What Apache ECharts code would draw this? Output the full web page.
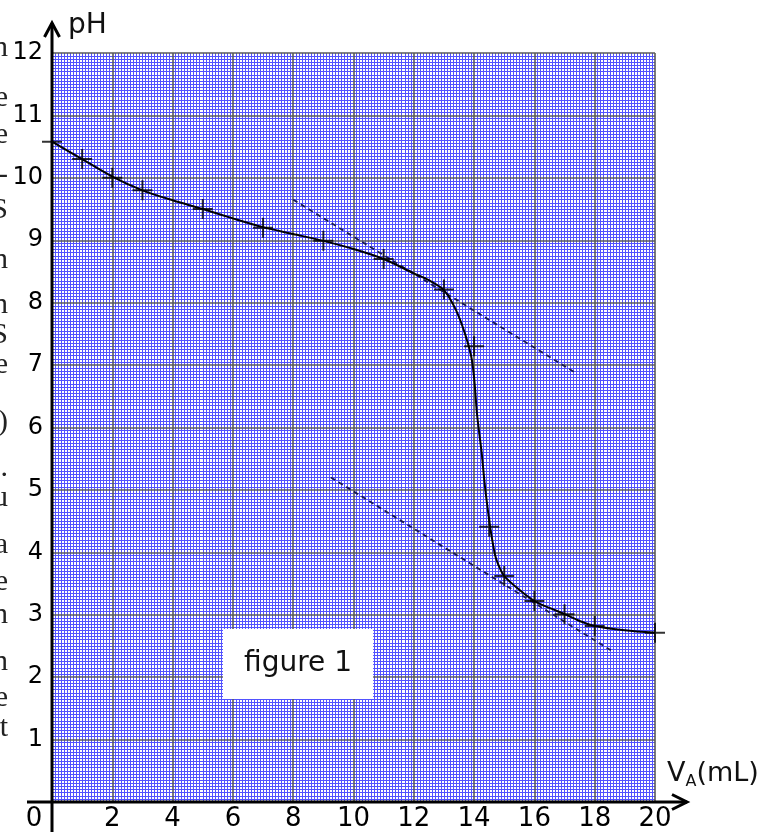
<!DOCTYPE html>
<html><head><meta charset="utf-8">
<script src="https://cdn.jsdelivr.net/npm/echarts@6/dist/echarts.min.js"></script>
<style>html,body{margin:0;padding:0;background:#fff;overflow:hidden}#c{width:762px;height:832px}</style>
</head><body><div id="c"></div>
<script>
// measured crosses (V_A in mL, pH)
const markerPoints = [[0,10.58],[1,10.30],[2,10.00],[3,9.80],[5,9.50],[7,9.20],[9,8.99],[11,8.70],[13,8.21],[14,7.30],[14.5,4.41],[15,3.62],[16,3.22],[17,3.01],[18,2.82],[20,2.71]];
// traced smooth titration curve
const curvePoints = [[0,10.58],[1,10.30],[2,10.02],[3,9.80],[4,9.64],[5,9.50],[6,9.35],[7,9.21],[8,9.10],[9,8.99],[10,8.86],[11,8.70],[12,8.47],[12.5,8.36],[13,8.20],[13.4,7.88],[13.7,7.50],[13.9,7.15],[14.0,6.80],[14.1,6.20],[14.25,5.60],[14.35,5.10],[14.45,4.70],[14.55,4.35],[14.7,3.95],[14.85,3.75],[15.0,3.62],[15.5,3.40],[16.0,3.22],[16.5,3.11],[17.0,3.01],[17.5,2.90],[18.0,2.82],[19.0,2.75],[20.0,2.71]];
// tangents (dashed)
const tangentUpper = [[8.0,9.65],[17.35,6.88]];
const tangentLower = [[9.25,5.20],[18.57,2.42]];
// "figure 1" caption box corners
const figureBox = [[5.67,2.77],[10.65,1.65]];
const figureLabel = 'figure 1';
const xName = ['V','A','(mL)'];
const yName = 'pH';
// stray letters of the cropped neighbouring text at the left edge: [char, baseline y]
const strayText = [['n',63],['e',113],['e',150],['-',190],['S',225],['n',275],['n',320],['S',350],['e',380],[')',437],['.',483],['u',513],['a',560],['e',597],['n',630],['n',677],['e',713],['t',743]];

const FONT = 'DejaVu Sans';
const chart = echarts.init(document.getElementById('c'), null, {renderer:'canvas'});
const minorStyle = {color:'#5252ff', width:1};
const majorStyle = {color:'#5a5a5a', width:1.6};
const option = {
  animation:false,
  backgroundColor:'#fff',
  grid:{left:52, top:53, width:603, height:750, containLabel:false},
  xAxis:[{
    type:'value', min:0, max:20, interval:2, z:0,
    axisLine:{show:false}, axisTick:{show:false},
    axisLabel:{color:'#000', fontFamily:FONT, fontSize:26, margin:4,
      formatter:v => v===0 ? '{z|0}' : String(v),
      rich:{z:{color:'#000', fontFamily:FONT, fontSize:26, padding:[0,36,0,0]}}},
    splitLine:{show:false},
    minorTick:{show:false, splitNumber:20},
    minorSplitLine:{show:true, lineStyle:minorStyle}
  },{
    type:'value', min:0, max:20, interval:2, z:1,
    axisLine:{show:false}, axisTick:{show:false}, axisLabel:{show:false},
    splitLine:{show:true, lineStyle:majorStyle}
  }],
  yAxis:[{
    type:'value', min:0, max:12, interval:1, z:0,
    axisLine:{show:false}, axisTick:{show:false},
    axisLabel:{color:'#000', fontFamily:FONT, fontSize:24, margin:9,
      formatter:v => v===0 ? '' : String(v)},
    splitLine:{show:false},
    minorTick:{show:false, splitNumber:20},
    minorSplitLine:{show:true, lineStyle:minorStyle}
  },{
    type:'value', min:0, max:12, interval:1, z:1,
    axisLine:{show:false}, axisTick:{show:false}, axisLabel:{show:false},
    splitLine:{show:true, lineStyle:majorStyle}
  }],
  series:[
    {type:'line', data:tangentUpper, symbol:'none', silent:true, z:3,
     lineStyle:{color:'#1a1a50', width:1.8, type:[5,4]}},
    {type:'line', data:tangentLower, symbol:'none', silent:true, z:3,
     lineStyle:{color:'#1a1a50', width:1.8, type:[5,4]}},
    {type:'line', data:curvePoints, symbol:'none', smooth:0.3, silent:true, z:4,
     lineStyle:{color:'#000', width:2},
     markArea:{silent:true, itemStyle:{color:'#fff'},
       label:{show:true, position:'inside', formatter:figureLabel, color:'#111', fontFamily:FONT, fontSize:28},
       data:[[{coord:figureBox[0]},{coord:figureBox[1]}]]}},
    {type:'scatter', data:markerPoints, symbol:'path://M0,-10L0,10M-10,0L10,0', symbolSize:20, silent:true, z:5,
     itemStyle:{color:'rgba(0,0,0,0)', borderColor:'#000', borderWidth:2}}
  ]
};
chart.setOption(option);

const o = chart.convertToPixel({gridIndex:0},[0,0]);
const t = chart.convertToPixel({gridIndex:0},[0,12]);
const r = chart.convertToPixel({gridIndex:0},[20,0]);
const ax = {stroke:'#000', lineWidth:3, fill:null};
const g = [
  {type:'polyline', z:100, shape:{points:[[o[0],832],[o[0],t[1]-30]]}, style:ax},
  {type:'polyline', z:100, shape:{points:[[o[0]-7.5,t[1]-16],[o[0],t[1]-30],[o[0]+7.5,t[1]-16]]}, style:ax},
  {type:'polyline', z:100, shape:{points:[[o[0]-25,o[1]],[r[0]+32,o[1]]]}, style:ax},
  {type:'polyline', z:100, shape:{points:[[r[0]+17,o[1]-7.5],[r[0]+32,o[1]],[r[0]+17,o[1]+7.5]]}, style:ax},
  {type:'text', z:100, x:o[0]+16, y:t[1]-27, style:{text:yName, fill:'#111', font:'28px "DejaVu Sans"', align:'left', verticalAlign:'middle'}},
  {type:'text', z:100, x:r[0]+12, y:o[1]-28, style:{
    text:'{v|'+xName[0]+'}{s|'+xName[1]+'}{v|'+xName[2]+'}',
    align:'left', verticalAlign:'middle',
    rich:{v:{fill:'#111', fontFamily:FONT, fontSize:27, lineHeight:32},
          s:{fill:'#111', fontFamily:FONT, fontSize:16, lineHeight:19, verticalAlign:'bottom'}}}}
];
strayText.forEach(([ch,y]) => {
  g.push({type:'text', z:100, x:8, y:y, style:{text:ch, fill:'#222', font:'30px "Liberation Serif"', align:'right', verticalAlign:'bottom'}});
});
chart.setOption({graphic:g});
</script></body></html>
